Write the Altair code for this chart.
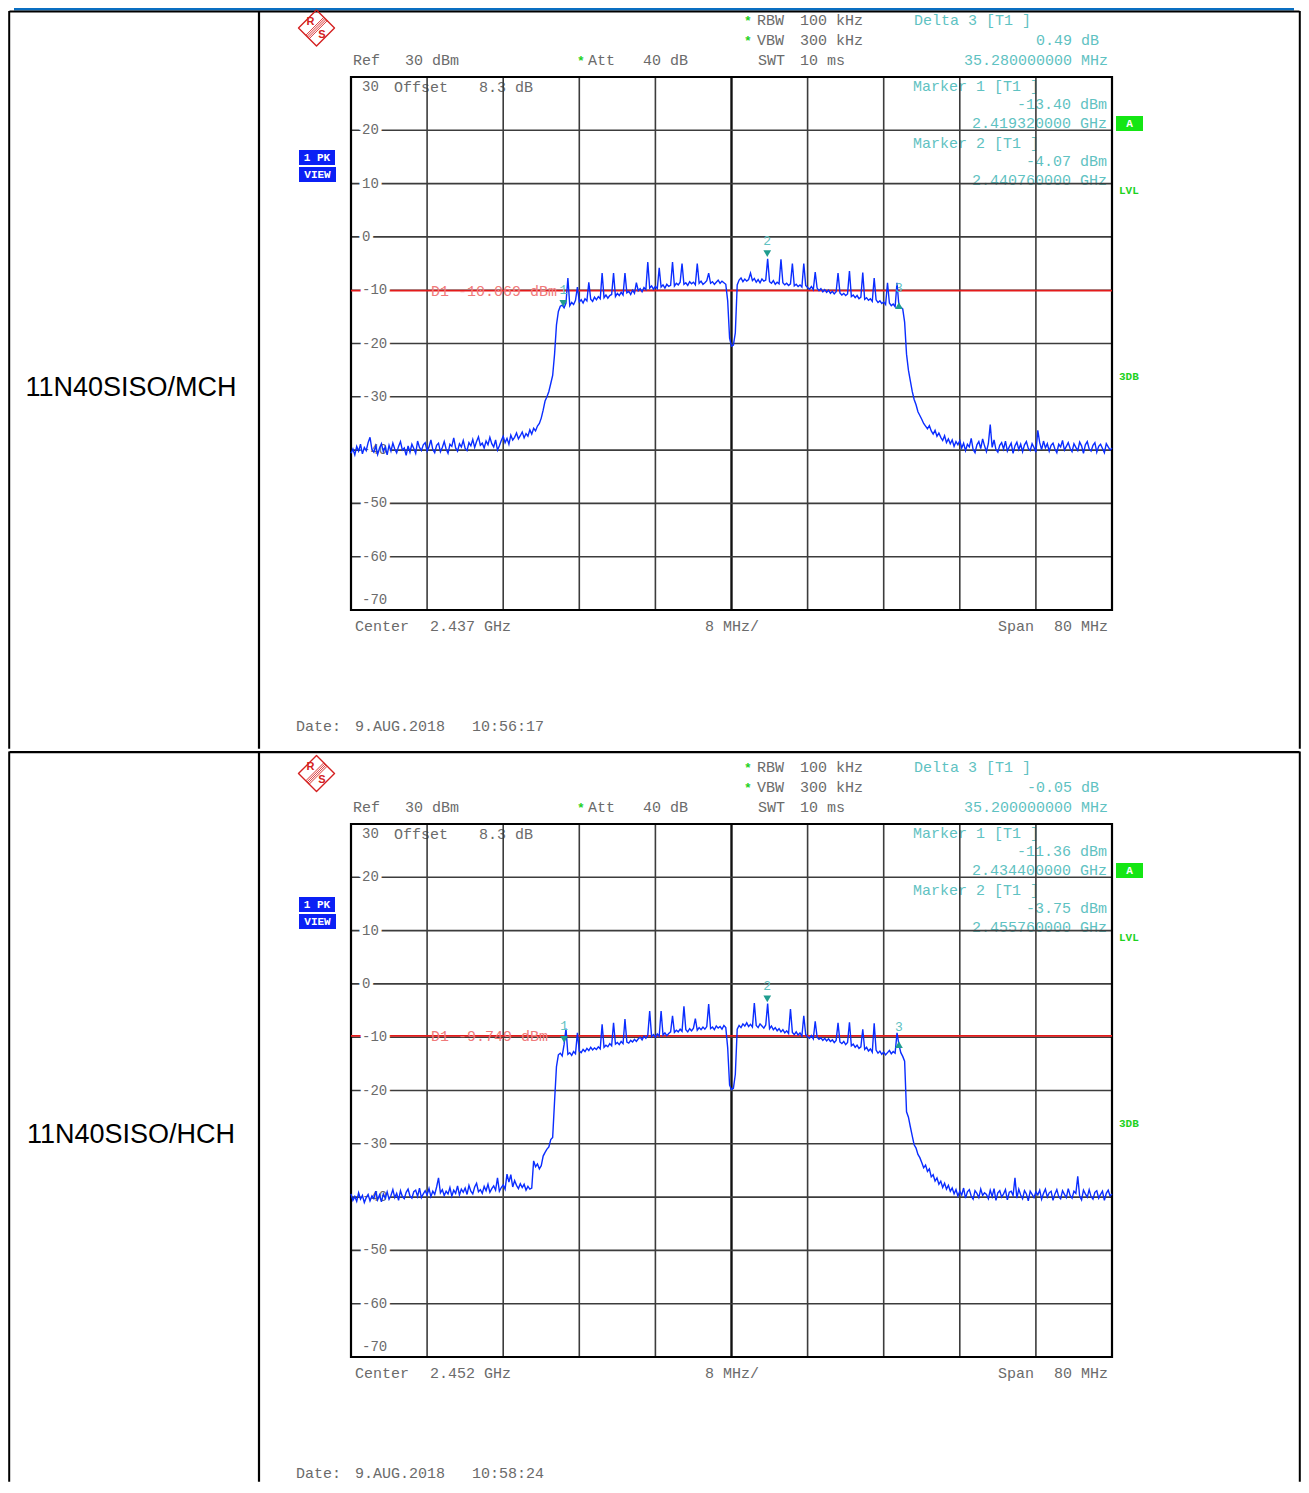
import altair as alt
import pandas as pd

# ----------------------------------------------------------------- data
ROW_LABELS = ["11N40SISO/MCH", "11N40SISO/HCH"]
CENTER_GHZ = [2.437, 2.452]
SPAN_MHZ = 80.0
DIV_MHZ = 8.0
REF_DBM = 30
RANGE_DB = 100
DIV_DB = 10
ATT_DB = 40
OFFSET_DB = 8.3
RBW_KHZ = 100
VBW_KHZ = 300
SWT_MS = 10
D1_DBM = [-10.069, -9.749]
M1_GHZ = [2.419320, 2.434400]
M1_DBM = [-13.40, -11.36]
M2_GHZ = [2.440760, 2.455760]
M2_DBM = [-4.07, -3.75]
D3_MHZ = [35.28, 35.20]
D3_DB = [0.49, -0.05]
DATES = ["9.AUG.2018", "9.AUG.2018"]
TIMES = ["10:56:17", "10:58:24"]

# trace values (dBm) read every 0.2 MHz across the 80 MHz span
TRACE_MCH = [
    -40.6, -39.8, -40.9, -39.3, -40.2, -38.9, -40.7, -39.5, -40.1, -38.6,
    -37.6, -39.9, -40.4, -39.2, -40.8, -39.6, -38.8, -40.3, -39.4, -40.9,
    -39.1, -40.2, -38.7, -39.8, -40.5, -39.3, -38.4, -40.0, -39.6, -41.0,
    -39.2, -40.4, -38.9, -39.7, -40.6, -38.3, -39.5, -40.1, -39.0, -38.6,
    -40.2, -39.4, -38.1, -39.9, -40.5, -39.1, -38.7, -40.3, -39.5, -38.4,
    -39.8, -40.6, -38.9, -39.3, -37.7, -39.6, -40.2, -38.8, -39.4, -38.2,
    -39.7, -40.1, -38.6, -39.2, -38.0, -39.5, -38.4, -37.5, -39.1, -38.7,
    -39.6, -38.3, -39.0, -37.6, -38.8, -39.4, -38.1, -40.0, -39.2, -38.2,
    -37.4, -38.6, -37.8, -38.9, -37.2, -38.1, -37.6, -36.8, -37.9, -37.3,
    -36.6, -37.7, -36.9, -37.4, -36.2, -37.0, -35.9, -36.4, -35.5, -35.0,
    -34.0, -32.5, -30.8, -30.0, -29.0, -27.5, -26.0, -22.0, -16.5, -14.0,
    -13.0, -12.8, -13.3, -12.4, -7.7, -12.9, -12.3, -12.7, -11.9, -9.4,
    -12.2, -11.8, -12.4, -11.6, -12.0, -8.5, -11.7, -12.1, -11.3, -11.8,
    -11.2, -11.6, -6.8, -11.4, -10.9, -11.5, -11.0, -10.8, -6.8, -11.2,
    -10.6, -11.0, -10.4, -10.9, -6.8, -10.5, -10.2, -10.8, -10.0, -10.6,
    -8.6, -10.1, -9.7, -10.3, -9.5, -9.9, -4.7, -9.6, -9.2, -9.8,
    -9.3, -9.7, -5.8, -9.4, -9.0, -9.6, -8.9, -9.3, -9.1, -4.7,
    -9.2, -8.7, -9.0, -8.5, -5.0, -8.9, -8.6, -9.1, -8.4, -8.8,
    -8.5, -9.0, -5.0, -8.7, -8.3, -8.9, -8.6, -8.2, -6.8, -8.7,
    -8.4, -8.9, -8.5, -8.1, -8.7, -8.3, -8.6, -8.9, -12.0, -19.0,
    -20.5, -20.3, -18.0, -9.0, -8.1, -7.7, -8.4, -7.9, -8.3, -8.0,
    -6.8, -8.2, -7.8, -8.5, -8.0, -8.6, -7.9, -8.3, -8.1, -4.1,
    -8.4, -8.7, -8.2, -8.9, -8.5, -8.8, -4.2, -8.6, -9.0, -8.7,
    -9.1, -8.8, -5.0, -9.2, -8.9, -9.3, -9.0, -9.4, -5.0, -9.1,
    -9.5, -9.8, -9.3, -9.9, -6.6, -9.6, -10.1, -9.7, -10.3, -9.9,
    -10.4, -10.0, -10.6, -10.2, -10.7, -10.3, -6.8, -10.5, -10.9, -10.6,
    -11.0, -10.7, -6.4, -11.2, -10.9, -11.4, -11.0, -11.6, -11.3, -6.7,
    -11.7, -11.4, -11.9, -11.6, -12.1, -7.7, -11.8, -12.3, -12.0, -12.5,
    -12.2, -12.7, -8.6, -12.4, -12.9, -12.6, -13.1, -8.6, -12.9, -13.2,
    -13.5, -16.0, -22.0, -25.0, -27.0, -29.0, -30.5, -31.5, -32.8, -33.5,
    -34.2, -35.0, -35.5, -36.0, -35.4, -36.4, -37.0, -36.3, -37.4, -36.8,
    -37.6, -38.2, -37.3, -38.6, -37.9, -38.8, -38.1, -39.3, -38.4, -39.0,
    -38.2, -39.6, -38.7, -40.1, -38.9, -39.4, -37.8, -39.9, -40.5, -39.0,
    -38.4, -39.7, -37.9, -39.2, -40.3, -38.8, -35.2, -39.5, -38.1, -39.9,
    -40.4, -39.1, -38.6, -39.8, -38.3, -40.2, -39.4, -38.7, -40.6, -39.2,
    -38.5, -39.9, -38.9, -40.3, -39.0, -38.4, -39.7, -40.1, -38.8, -39.5,
    -40.4, -36.3, -38.6, -39.9, -38.3, -39.6, -38.8, -40.2, -39.1, -38.7,
    -39.8, -40.5, -38.9, -39.4, -38.2, -40.0, -39.3, -38.6, -39.7, -40.3,
    -38.8, -39.5, -40.1, -38.5, -39.2, -40.6, -39.0, -38.4, -39.8, -40.2,
    -39.1, -38.6, -40.4, -39.3, -38.9, -39.7, -40.5, -38.8, -39.4, -40.0,
    -39.6,
]

TRACE_HCH = [
    -39.4, -40.6, -39.9, -40.8, -39.2, -40.4, -39.7, -41.0, -40.1, -39.5,
    -40.7, -39.8, -40.3, -38.9, -40.5, -39.6, -40.9, -39.4, -40.2, -39.0,
    -40.4, -39.7, -38.6, -40.1, -39.3, -40.6, -38.8, -39.9, -40.3, -39.1,
    -38.5, -39.8, -40.2, -39.0, -38.7, -39.9, -38.3, -40.1, -39.4, -38.8,
    -39.6, -38.4, -39.9, -38.9, -39.5, -38.1, -36.4, -39.2, -38.6, -39.7,
    -38.9, -39.4, -38.2, -39.8, -38.7, -39.3, -37.9, -39.6, -38.5, -39.1,
    -38.3, -39.5, -37.8, -38.9, -39.4, -38.1, -37.4, -39.0, -38.6, -39.3,
    -38.0, -38.8, -37.6, -39.1, -38.4, -37.9, -38.7, -36.4, -38.9, -38.2,
    -37.7, -38.5, -35.7, -37.2, -35.8, -38.1, -36.9, -37.8, -38.4, -37.5,
    -38.2, -37.6, -38.7, -38.0, -38.5, -38.3, -33.2, -34.3, -33.8, -34.7,
    -34.1, -32.3, -31.6, -31.0, -30.6, -29.2, -28.8, -22.0, -15.5, -13.3,
    -13.0, -13.5, -11.4, -8.4, -13.2, -12.9, -13.4, -12.7, -13.1, -9.2,
    -12.6, -12.9, -12.3, -12.7, -12.1, -12.5, -11.9, -12.4, -12.0, -12.3,
    -11.8, -12.2, -7.6, -11.9, -11.5, -11.8, -11.2, -11.6, -7.3, -11.3,
    -11.0, -11.4, -10.8, -11.2, -6.6, -10.9, -11.1, -10.6, -10.9, -10.4,
    -10.8, -10.3, -10.0, -10.5, -9.8, -10.2, -9.6, -5.1, -9.9, -9.5,
    -10.0, -9.4, -9.8, -5.1, -9.6, -9.2, -9.7, -9.3, -9.0, -6.0,
    -9.1, -8.7, -9.0, -8.5, -8.9, -4.2, -8.6, -9.0, -8.4, -8.8,
    -8.3, -6.5, -8.7, -8.2, -8.6, -8.1, -8.5, -8.0, -3.8, -8.4,
    -8.1, -8.6, -7.9, -8.3, -8.0, -8.5, -7.8, -8.2, -12.0, -19.0,
    -19.8, -19.6, -17.0, -8.5, -7.8, -8.2, -7.5, -7.9, -7.3, -8.0,
    -7.6, -8.1, -3.6, -7.8, -8.2, -7.5, -7.9, -8.3, -7.7, -3.7,
    -8.4, -7.9, -8.6, -8.2, -8.8, -8.4, -9.0, -8.6, -9.2, -8.8,
    -9.3, -4.7, -9.1, -9.5, -9.0, -9.6, -9.2, -9.8, -6.0, -9.5,
    -9.9, -10.2, -9.7, -10.3, -7.0, -10.0, -10.4, -10.1, -10.6, -10.2,
    -10.7, -10.3, -10.8, -10.5, -11.0, -10.6, -7.3, -10.9, -11.2, -10.8,
    -11.4, -11.0, -7.2, -11.6, -11.3, -11.9, -11.5, -12.1, -11.8, -8.5,
    -12.3, -11.9, -12.6, -12.2, -12.8, -7.4, -12.4, -13.0, -12.6, -13.2,
    -12.8, -13.3, -12.9, -12.5, -13.1, -12.7, -13.0, -9.2, -11.4, -12.9,
    -13.6, -14.5, -24.0, -25.0, -26.8, -28.5, -30.2, -30.8, -32.0, -32.6,
    -33.5, -34.5, -34.0, -35.2, -34.7, -36.2, -35.8, -37.0, -36.4, -37.6,
    -37.0, -38.2, -37.4, -38.5, -37.8, -38.9, -38.3, -39.4, -38.6, -39.8,
    -38.9, -39.6, -38.3, -40.2, -39.0, -38.6, -39.8, -40.4, -38.8, -39.3,
    -40.1, -38.5, -39.7, -39.2, -39.5, -40.3, -38.7, -39.9, -38.4, -40.6,
    -39.2, -38.8, -40.0, -39.4, -38.6, -40.5, -39.1, -38.9, -39.7, -36.4,
    -40.2, -38.5, -39.6, -40.3, -38.8, -39.4, -40.7, -38.9, -39.5, -40.1,
    -39.0, -39.6, -38.7, -40.4, -39.3, -38.5, -40.0, -39.2, -38.9, -40.6,
    -39.4, -38.6, -39.9, -40.3, -38.8, -39.5, -40.1, -38.4, -39.7, -40.2,
    -38.9, -39.3, -36.1, -39.8, -40.5, -38.7, -39.4, -40.0, -38.6, -39.9,
    -40.4, -39.1, -38.8, -40.2, -39.5, -38.9, -40.6, -39.3, -38.7, -39.8,
    -39.4,
]
TRACES = [TRACE_MCH, TRACE_HCH]

# ----------------------------------------------------------------- style / layout
MONO = "Liberation Mono"
SANS = "Liberation Sans"
GRAY = "#6b6b6b"
GRIDC = "#3c3c3c"
TEAL = "#5fc2c2"
TEAL_MK = "#1f9d8f"
RED = "#e31b1b"
RED_TXT = "#f07a7a"
GREEN = "#1fd21f"
GREEN_BOX = "#14e614"
BLUE_TR = "#0a2dff"
PK_BLUE = "#0b20f5"
BAR_BLUE = "#0a6fc2"
RS_RED = "#d42020"

PAGE = 8
W = 1293
ROW_H = [742, 732]
ROW_DY = [-8, -4]
LOGO_CY = [28.0, 26.5]
GL, GR, GT, GB = 351, 1112, 77, 610
ONE = pd.DataFrame({"k": [0]})


def build_row(r):
    dy = ROW_DY[r]

    def X(v):
        return v - PAGE

    def Y(v):
        return v + dy

    half = SPAN_MHZ / 2
    lo_db = REF_DBM - RANGE_DB
    xs = alt.Scale(domain=[-half, half], range=[X(GL), X(GR)], nice=False, zero=False)
    ys = alt.Scale(domain=[lo_db, REF_DBM], range=[Y(GB), Y(GT)], nice=False, zero=False)

    def fx(f):
        return alt.X(f, type="quantitative", scale=xs, axis=None)

    def fy(f):
        return alt.Y(f, type="quantitative", scale=ys, axis=None)

    layers = []

    def T(s, x, y, color=GRAY, size=15, align="left", font=MONO, weight="normal"):
        layers.append(
            alt.Chart(ONE)
            .mark_text(text=s, align=align, baseline="middle", font=font,
                       fontSize=size, fontWeight=weight, color=color)
            .encode(x=alt.value(X(x)), y=alt.value(Y(y)))
        )

    def RULE(x1, y1, x2, y2, color="black", w=2.0):
        layers.append(
            alt.Chart(ONE).mark_rule(color=color, strokeWidth=w)
            .encode(x=alt.value(x1), x2=alt.value(x2), y=alt.value(y1), y2=alt.value(y2))
        )

    def BOX(x1, y1, x2, y2, fill):
        layers.append(
            alt.Chart(ONE).mark_rect(color=fill)
            .encode(x=alt.value(X(x1)), x2=alt.value(X(x2)),
                    y=alt.value(Y(y1)), y2=alt.value(Y(y2)))
        )

    h = ROW_H[r]
    # table chrome
    if r == 0:
        layers.append(
            alt.Chart(ONE).mark_rect(color=BAR_BLUE)
            .encode(x=alt.value(X(14)), x2=alt.value(X(1294)), y=alt.value(0), y2=alt.value(2.5))
        )
        RULE(1.5, 3.5, W - 1.5, 3.5, w=2)
        top = 3
    else:
        RULE(1.5, 1.2, W - 1.5, 1.2, w=2.2)
        top = 0.5
    RULE(1.2, top, 1.2, h - 1.2, w=2)
    RULE(X(259), top, X(259), h - 1.2, w=2.2)
    RULE(W - 1.2, top, W - 1.2, h - 1.2, w=2)

    # row label
    T(ROW_LABELS[r], 131, 387.5, color="black", size=27, align="center", font=SANS)

    # R&S logo
    cx, cy, rr = 316.5, LOGO_CY[r], 18.0
    layers.append(
        alt.Chart(ONE).mark_point(shape="diamond", size=(2 * rr) ** 2, filled=False,
                                  color=RS_RED, strokeWidth=1.4, opacity=1, strokeJoin="round")
        .encode(x=alt.value(X(cx)), y=alt.value(Y(cy)))
    )
    for d in (-2.4, -0.8, 0.8, 2.4):
        o = d * 0.7071
        RULE(X(cx + rr / 2 + o), Y(cy - rr / 2 + o), X(cx - rr / 2 + o), Y(cy + rr / 2 + o),
             color=RS_RED, w=0.9)
    T("R", cx - 6, cy - 6.5, color=RS_RED, size=11, align="center", font=SANS, weight="bold")
    T("S", cx + 5.5, cy + 6.5, color=RS_RED, size=11, align="center", font=SANS, weight="bold")

    # trace view boxes
    BOX(299, 150, 335, 165, PK_BLUE)
    T("1 PK", 317, 158, color="white", size=11, align="center", weight="bold")
    BOX(299, 167, 336, 182, PK_BLUE)
    T("VIEW", 317.5, 175, color="white", size=11, align="center", weight="bold")

    # header
    T("*", 748, 21, color=GREEN, size=13, align="center", weight="bold")
    T("RBW", 757, 20)
    T(f"{RBW_KHZ} kHz", 800, 20)
    T("*", 748, 41, color=GREEN, size=13, align="center", weight="bold")
    T("VBW", 757, 40)
    T(f"{VBW_KHZ} kHz", 800, 40)
    T("Ref", 353, 60)
    T(f"{REF_DBM} dBm", 405, 60)
    T("*", 581, 61, color=GREEN, size=13, align="center", weight="bold")
    T("Att", 588, 60)
    T(f"{ATT_DB} dB", 643, 60)
    T("SWT", 758, 60)
    T(f"{SWT_MS} ms", 800, 60)
    T("Delta 3 [T1 ]", 914, 20, color=TEAL)
    T(f"{D3_DB[r]:.2f} dB", 1099, 40, color=TEAL, align="right")
    T(f"{D3_MHZ[r]:.9f} MHz", 1108, 60, color=TEAL, align="right")

    # readouts inside the diagram (grid is drawn over them)
    T("Offset", 394, 87)
    T(f"{OFFSET_DB} dB", 479, 87)
    T("Marker 1 [T1 ]", 913, 86, color=TEAL)
    T(f"{M1_DBM[r]:.2f} dBm", 1107, 104, color=TEAL, align="right")
    T(f"{M1_GHZ[r]:.9f} GHz", 1107, 123, color=TEAL, align="right")
    T("Marker 2 [T1 ]", 913, 143, color=TEAL)
    T(f"{M2_DBM[r]:.2f} dBm", 1107, 161, color=TEAL, align="right")
    T(f"{M2_GHZ[r]:.9f} GHz", 1107, 180, color=TEAL, align="right")

    # grid
    vgrid = pd.DataFrame({"f": [-half + DIV_MHZ * k for k in range(1, 10)]})
    vgrid["lo"] = lo_db
    vgrid["hi"] = REF_DBM
    layers.append(alt.Chart(vgrid).mark_rule(color=GRIDC, strokeWidth=1.6)
                  .encode(x=fx("f"), y=fy("lo"), y2="hi"))
    vc = pd.DataFrame({"f": [0.0], "lo": [lo_db], "hi": [REF_DBM]})
    layers.append(alt.Chart(vc).mark_rule(color="#111111", strokeWidth=2.2)
                  .encode(x=fx("f"), y=fy("lo"), y2="hi"))
    levels = [REF_DBM - DIV_DB * k for k in range(1, 10)]
    hgrid = pd.DataFrame({"level": levels, "lo": -half, "hi": half})
    layers.append(alt.Chart(hgrid).mark_rule(color=GRIDC, strokeWidth=1.6)
                  .encode(y=fy("level"), x=fx("lo"), x2="hi"))
    frame = pd.DataFrame({"xlo": [-half], "xhi": [half], "ylo": [lo_db], "yhi": [REF_DBM]})
    layers.append(alt.Chart(frame).mark_rect(fillOpacity=0, stroke="black", strokeWidth=2.2)
                  .encode(x=fx("xlo"), x2="xhi", y=fy("ylo"), y2="yhi"))

    # display line D1
    d1 = pd.DataFrame({"level": [D1_DBM[r]], "lo": [-half], "hi": [half],
                       "txt": [f"D1  {D1_DBM[r]:.3f} dBm"]})
    layers.append(alt.Chart(d1).mark_rule(color=RED, strokeWidth=1.8)
                  .encode(y=fy("level"), x=fx("lo"), x2="hi"))
    layers.append(alt.Chart(d1).mark_text(align="left", baseline="middle", font=MONO,
                                          fontSize=15, color=RED_TXT)
                  .encode(x=alt.value(X(431)), y=fy("level"), text="txt:N"))

    # level labels (white halo hides the grid line behind them)
    lab = pd.DataFrame({"level": levels, "label": [str(v) for v in levels]})
    layers.append(alt.Chart(lab).mark_text(align="left", baseline="middle", font=MONO, fontSize=14,
                                           color="white", stroke="white", strokeWidth=7)
                  .encode(x=alt.value(X(362)), y=fy("level"), text="label:N"))
    layers.append(alt.Chart(lab).mark_text(align="left", baseline="middle", font=MONO, fontSize=14,
                                           color=GRAY)
                  .encode(x=alt.value(X(362)), y=fy("level"), text="label:N"))
    top_lab = pd.DataFrame({"level": [REF_DBM], "label": [str(REF_DBM)]})
    bot_lab = pd.DataFrame({"level": [lo_db], "label": [str(lo_db)]})
    layers.append(alt.Chart(top_lab).mark_text(align="left", baseline="middle", font=MONO,
                                               fontSize=14, color=GRAY, dy=10)
                  .encode(x=alt.value(X(362)), y=fy("level"), text="label:N"))
    layers.append(alt.Chart(bot_lab).mark_text(align="left", baseline="middle", font=MONO,
                                               fontSize=14, color=GRAY, dy=-10)
                  .encode(x=alt.value(X(362)), y=fy("level"), text="label:N"))

    # trace
    vals = TRACES[r]
    n = len(vals)
    tr = pd.DataFrame({"f": [-half + SPAN_MHZ * i / (n - 1) for i in range(n)], "dbm": vals})
    layers.append(alt.Chart(tr).mark_line(interpolate="linear", color=BLUE_TR, strokeWidth=1.4)
                  .encode(x=fx("f"), y=fy("dbm")))

    # markers
    m1 = (M1_GHZ[r] - CENTER_GHZ[r]) * 1000
    m2 = (M2_GHZ[r] - CENTER_GHZ[r]) * 1000
    mdown = pd.DataFrame({"f": [m1, m2], "lvl": [M1_DBM[r], M2_DBM[r]], "lab": ["1", "2"]})
    mup = pd.DataFrame({"f": [m1 + D3_MHZ[r]], "lvl": [M1_DBM[r] + D3_DB[r]], "lab": ["3"]})
    layers.append(alt.Chart(mdown).mark_point(shape="triangle-down", filled=True, size=60,
                                              color=TEAL_MK, opacity=1, yOffset=-5)
                  .encode(x=fx("f"), y=fy("lvl")))
    layers.append(alt.Chart(mup).mark_point(shape="triangle-up", filled=True, size=60,
                                            color=TEAL_MK, opacity=1)
                  .encode(x=fx("f"), y=fy("lvl")))
    for mdf in (mdown, mup):
        layers.append(alt.Chart(mdf).mark_text(align="center", baseline="middle", font=MONO,
                                               fontSize=13, color=TEAL, dy=-18)
                      .encode(x=fx("f"), y=fy("lvl"), text="lab:N"))

    # right-hand status
    BOX(1116, 116, 1143, 131, GREEN_BOX)
    T("A", 1129.5, 123.5, color="white", size=11, align="center", weight="bold")
    T("LVL", 1119, 191, color=GREEN, size=11, weight="bold")
    T("3DB", 1119, 377, color=GREEN, size=11, weight="bold")

    # footer
    T("Center", 355, 626)
    T(f"{CENTER_GHZ[r]:.3f} GHz", 430, 626)
    T(f"{DIV_MHZ:.0f} MHz/", 705, 626)
    T("Span", 998, 626)
    T(f"{SPAN_MHZ:.0f} MHz", 1108, 626, align="right")
    T("Date:", 296, 726)
    T(DATES[r], 355, 726)
    T(TIMES[r], 472, 726)

    return alt.layer(*layers).properties(width=W, height=h)


chart = (
    alt.vconcat(build_row(0), build_row(1), spacing=0)
    .resolve_scale(x="independent", y="independent")
    .properties(padding=0)
    .configure_view(stroke=None)
)

chart.save("out.html", embed_options={"renderer": "svg", "actions": False})
